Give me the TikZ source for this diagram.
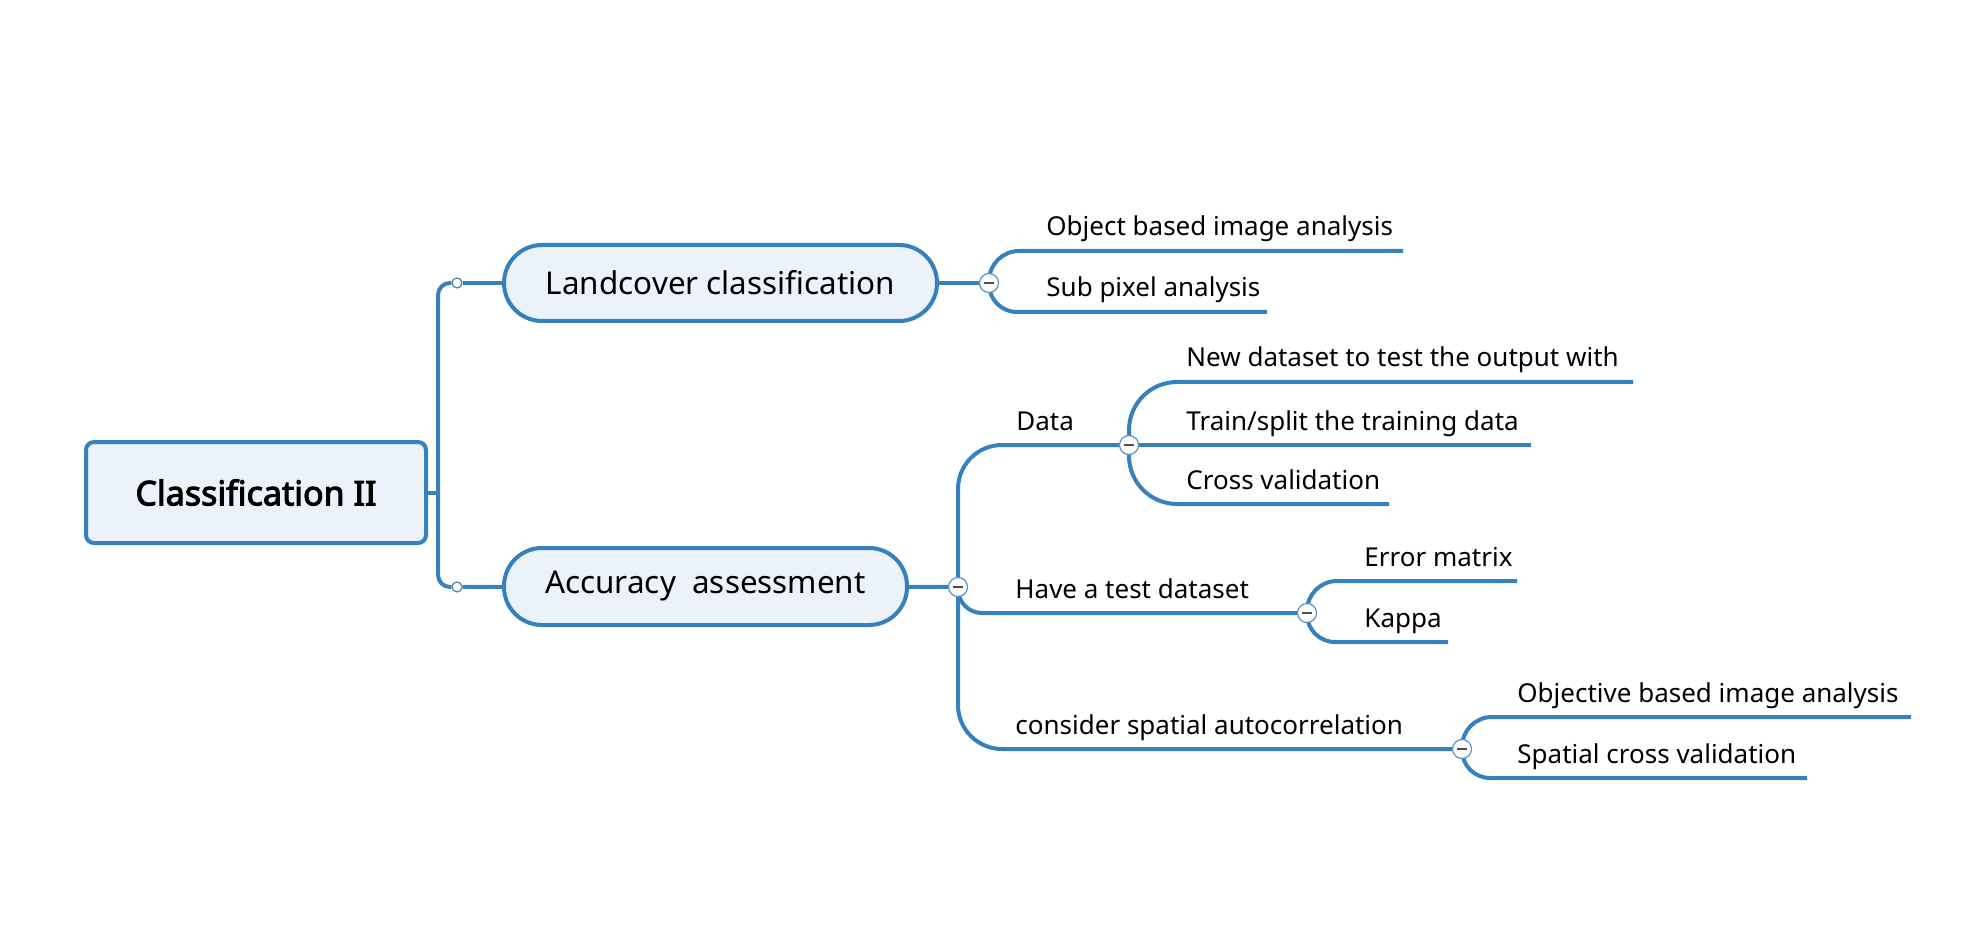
\documentclass[tikz,border=0pt]{standalone}
\usepackage{fontspec}
\setmainfont{Noto Sans}[AutoFakeBold=3]
\usepackage{tikz}
\usetikzlibrary{positioning}
\definecolor{mapline}{RGB}{55,128,190}
\definecolor{topicfill}{RGB}{235,242,249}
\definecolor{foldmark}{RGB}{80,80,80}
\tikzset{
  topicbox/.style={draw=mapline,line width=2pt,fill=topicfill,font=\fontsize{15.7}{18}\selectfont},
  branchline/.style={draw=mapline,line width=2pt},
  leaftext/.style={anchor=base west,inner sep=0pt,font=\fontsize{13}{15}\selectfont},
  foldbtn/.style={circle,draw=mapline!85,fill=white,line width=0.6pt,minimum size=9.5pt,inner sep=0pt,
    path picture={\draw[foldmark,line width=0.7pt] ([xshift=-2.5pt]path picture bounding box.center) -- ([xshift=2.5pt]path picture bounding box.center);}},
  joindot/.style={circle,draw=mapline!60!gray,fill=white,line width=0.6pt,minimum size=5pt,inner sep=0pt}
}
\newcommand{\mapleaf}[5]{%
  \node[leaftext] (#1) at (#2,#3-15) {#5};%
  \coordinate (#1-end) at (#4,#3);%
}

\begin{document}
\begin{tikzpicture}[x=0.5pt,y=-0.5pt]
  \useasboundingbox (0,0) rectangle (1980,930);
  \node[topicbox,rounded corners=4pt,minimum width=170pt,minimum height=50.5pt,font=\bfseries\fontsize{17}{20}\selectfont] (root) at (256,492.5) {Classification II};
  \node[topicbox,rounded corners=19pt,minimum width=216.5pt,minimum height=38pt] (land) at (720.5,283) {Landcover classification};
  \node[topicbox,rounded corners=19pt,minimum width=201.5pt,minimum height=38.5pt] (acc) at (705.5,586.5) {Accuracy\ \ assessment};
  \coordinate (trunk) at (438,492.5);
  \node[joindot] (dLand) at (457,283) {};
  \node[joindot] (dAcc) at (457,587) {};
  \coordinate (kLand) at (989,283);
  \coordinate (kAcc) at (958,587);
  \coordinate (kData) at (1129,445);
  \coordinate (kHave) at (1307,613);
  \coordinate (kCons) at (1462,749);
  \draw[branchline] (root.east) -- (trunk);
  \draw[branchline,rounded corners=6pt] (dLand) -| (trunk) |- (dAcc);
  \draw[branchline] (dLand) -- (land);
  \draw[branchline] (dAcc) -- (acc);
  \draw[branchline] (land) -- (kLand);
  \draw[branchline] (acc) -- (kAcc);
  \mapleaf{obj}{1046}{251}{1403}{Object based image analysis}
  \mapleaf{sub}{1046}{312}{1267}{Sub pixel analysis}
  \draw[branchline,rounded corners=15pt] (kLand) |- (obj-end);
  \draw[branchline,rounded corners=14pt] (kLand) |- (sub-end);
  \node[leaftext] (data) at (1016,430) {Data};
  \node[leaftext] (have) at (1015,598) {Have a test dataset};
  \node[leaftext] (cons) at (1015,734) {consider spatial autocorrelation};
  \draw[branchline,rounded corners=22pt] (kData) -| (kAcc) |- (kCons);
  \draw[branchline,rounded corners=12pt] (kAcc) |- (kHave);
  \mapleaf{new}{1186}{382}{1633}{New dataset to test the output with}
  \mapleaf{train}{1186}{445}{1531}{Train/split the training data}
  \mapleaf{cross}{1186}{504}{1389}{Cross validation}
  \draw[branchline,rounded corners=24pt] (kData) |- (new-end);
  \draw[branchline] (kData) -- (train-end);
  \draw[branchline,rounded corners=24pt] (kData) |- (cross-end);
  \mapleaf{err}{1364}{581}{1517}{Error matrix}
  \mapleaf{kappa}{1364}{642}{1448}{Kappa}
  \draw[branchline,rounded corners=15pt] (kHave) |- (err-end);
  \draw[branchline,rounded corners=14pt] (kHave) |- (kappa-end);
  \mapleaf{objv}{1517}{717}{1911}{Objective based image analysis}
  \mapleaf{spat}{1517}{778}{1807}{Spatial cross validation}
  \draw[branchline,rounded corners=15pt] (kCons) |- (objv-end);
  \draw[branchline,rounded corners=14pt] (kCons) |- (spat-end);
  \foreach \k in {kLand,kAcc,kData,kHave,kCons} \node[foldbtn] (\k-btn) at (\k) {};
\end{tikzpicture}
\end{document}
